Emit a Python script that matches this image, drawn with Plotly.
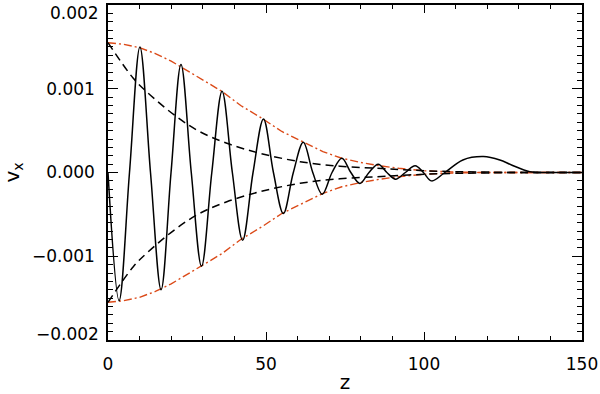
import plotly.graph_objects as go

# solid curve: extrema and zero crossings
z_solid = [0, 3.5, 6.8, 10.1, 13.45, 16.8, 19.95, 23.1, 26.35, 29.6, 32.85, 36.1,
           39.35, 42.6, 45.9, 49.2, 52.35, 55.5, 58.65, 61.8, 64.8, 67.8, 70.9,
           74.0, 76.85, 79.7, 82.6, 85.5, 88.25, 91.0, 94.1, 97.2, 99.8, 102.4,
           106.6, 112.3, 118.8, 124.0, 127.7, 133.5, 140, 150]
v_solid = [0, -0.00153, 0, 0.00150, 0, -0.00140, 0, 0.00129, 0, -0.00112, 0, 0.00097,
           0, -0.00081, 0, 0.00064, 0, -0.00049, 0, 0.00036, 0, -0.00026, 0,
           0.00017, 0, -0.00013, 0, 0.00010, 0, -0.00008, 0, 0.00008, 0, -0.00010,
           0, 0.00015, 0.00019, 0.00015, 0.00009, 0.00001, 0, 0]

# black dashed envelope (upper; lower is the mirror)
z_dash = [0, 8, 12.2, 21.7, 29.1, 37.6, 48.1, 60.8, 73.4, 85, 95, 110, 150]
v_dash = [0.00155, 0.001125, 0.000965, 0.000666, 0.000487, 0.000349, 0.000229,
          0.000129, 0.000075, 0.00005, 0.00003, 0.00001, 0]

# red dash-dot envelope (upper; lower is the mirror)
z_env = [0, 5, 10, 15, 20, 25, 30, 36, 42, 49, 55, 62, 68, 74, 80, 86, 92, 100, 110, 120, 150]
v_env = [0.00155, 0.00153, 0.00149, 0.00142, 0.00133, 0.00122, 0.00110, 0.00097,
         0.00080, 0.00064, 0.00049, 0.00036, 0.00025, 0.00017, 0.00012, 0.00008,
         0.00005, 0.00002, 0.000005, 0, 0]

y_ticks = [-0.001, 0, 0.001]
y_labels = ["\u22120.001", "0.000", "0.001"]
y_end_ticks = [0.002, -0.002]
y_end_labels = ["0.002", "\u22120.002"]
x_ticks = [0, 50, 100, 150]

red = "#db4a18"

fig = go.Figure()
fig.add_trace(go.Scatter(x=z_env, y=v_env, mode="lines",
                         line=dict(color=red, width=1.4, dash="8px,3px,2px,3px")))
fig.add_trace(go.Scatter(x=z_env, y=[-v for v in v_env], mode="lines",
                         line=dict(color=red, width=1.4, dash="8px,3px,2px,3px")))
fig.add_trace(go.Scatter(x=z_dash, y=v_dash, mode="lines", line_shape="spline",
                         line=dict(color="black", width=1.5, dash="8px,5px")))
fig.add_trace(go.Scatter(x=z_dash, y=[-v for v in v_dash], mode="lines", line_shape="spline",
                         line=dict(color="black", width=1.5, dash="8px,5px")))
fig.add_trace(go.Scatter(x=z_solid, y=v_solid, mode="lines", line_shape="spline",
                         line=dict(color="black", width=1.5, smoothing=1.0)))

font = dict(family="DejaVu Sans", size=17, color="black")
fig.update_layout(
    width=600, height=394,
    margin=dict(l=108, r=18, t=5, b=54),
    plot_bgcolor="white", paper_bgcolor="white",
    showlegend=False,
    font=font,
)
fig.update_xaxes(
    range=[0, 150], tickvals=x_ticks, ticktext=[str(t) for t in x_ticks],
    ticks="inside", ticklen=8, tickcolor="black", tickwidth=1,
    minor=dict(dtick=10, ticks="inside", ticklen=4, tickcolor="black", tickwidth=1),
    showline=True, linecolor="black", linewidth=1.5, mirror="allticks",
    showgrid=False, zeroline=False, automargin=False,
    title=dict(text="z", standoff=4), ticklabelstandoff=8,
)
fig.update_yaxes(
    range=[-0.002, 0.002], tickvals=y_ticks, ticktext=y_labels,
    ticks="inside", ticklen=10, tickcolor="black", tickwidth=1,
    minor=dict(dtick=0.0001, ticks="inside", ticklen=5, tickcolor="black", tickwidth=1),
    showline=True, linecolor="black", linewidth=1.5, mirror="allticks",
    showgrid=False, zeroline=False, automargin=False,
    title=dict(text="v<sub>x</sub>", standoff=10), ticklabelstandoff=8,
)
# the end labels sit inside the axis span, as in the original
for val, txt, shift in zip(y_end_ticks, y_end_labels, [-8, 6]):
    fig.add_annotation(x=0, xref="paper", y=val, yref="y", text=txt, showarrow=False,
                       xanchor="right", yanchor="middle", xshift=-7, yshift=shift,
                       font=font)

fig.write_html("out.html", config={"displayModeBar": False},
               post_script="document.body.style.margin='0';")
